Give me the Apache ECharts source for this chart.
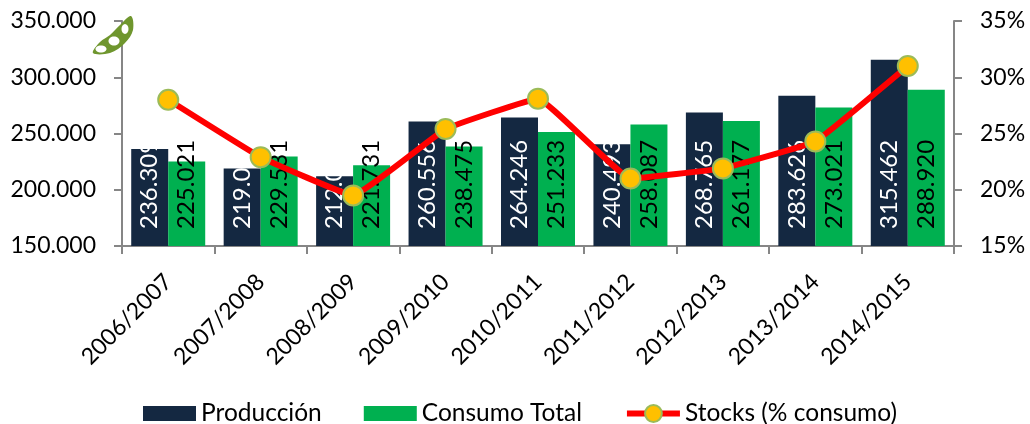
<!DOCTYPE html>
<html>
<head>
<meta charset="utf-8">
<title>Soja</title>
<script src="https://cdn.jsdelivr.net/npm/echarts@6/dist/echarts.min.js"></script>
<style>
  html, body { margin: 0; padding: 0; background: #fff; }
  #chart { width: 1030px; height: 424px; }
</style>
</head>
<body>
<div id="chart"></div>
<script>
const campaigns = ['2006/2007','2007/2008','2008/2009','2009/2010','2010/2011','2011/2012','2012/2013','2013/2014','2014/2015'];
const produccion = [236309, 219000, 212000, 260556, 264246, 240493, 268765, 283626, 315462];
const consumo = [225021, 229531, 221731, 238475, 251233, 258087, 261177, 273021, 288920];
const stocks = [28, 22.9, 19.5, 25.4, 28.1, 21, 21.9, 24.3, 31];

const font = 'Lato';
const axisGrey = '#868686';
// icono de leyenda: rectangulo mas bajo que la altura del item
const legendRect = 'path://M0 0L53 0ZM0 3H53V18H0ZM0 21L53 21Z';

// 236309 -> 236.309
function miles(v) {
  return Math.floor(v / 1000) + '.' + String(v % 1000).padStart(3, '0');
}

function barLabel(color) {
  return {
    show: true,
    position: 'insideBottom',
    rotate: 90,
    align: 'left',
    verticalAlign: 'middle',
    distance: 17,
    color: color,
    fontFamily: font,
    fontSize: 24,
    formatter: p => miles(p.value)
  };
}

const chart = echarts.init(document.getElementById('chart'));
chart.setOption({
  animation: false,
  textStyle: { fontFamily: font },
  grid: { left: 122, right: 76, top: 21, bottom: 178 },
  legend: {
    left: 143,
    top: 401,
    padding: 0,
    itemWidth: 53,
    itemHeight: 21,
    itemGap: 42,
    lineStyle: { width: 6 },
    textStyle: { fontFamily: font, fontSize: 24.5, color: '#000' },
    data: [
      { name: 'Producción', icon: legendRect },
      { name: 'Consumo Total', icon: legendRect },
      { name: 'Stocks (% consumo)' }
    ]
  },
  xAxis: {
    type: 'category',
    data: campaigns,
    axisLine: { lineStyle: { color: axisGrey, width: 2 } },
    axisTick: { show: true, length: 8, lineStyle: { color: axisGrey, width: 2 } },
    axisLabel: { rotate: 45, interval: 0, margin: 32, color: '#000', fontFamily: font, fontSize: 23 }
  },
  yAxis: [
    {
      type: 'value',
      min: 150000,
      max: 350000,
      interval: 50000,
      axisLine: { show: true, lineStyle: { color: axisGrey, width: 2 } },
      axisTick: { show: true, length: 8, lineStyle: { color: axisGrey, width: 2 } },
      splitLine: { show: false },
      axisLabel: { margin: 26, color: '#000', fontFamily: font, fontSize: 23, formatter: miles }
    },
    {
      type: 'value',
      min: 15,
      max: 35,
      interval: 5,
      position: 'right',
      axisLine: { show: true, lineStyle: { color: axisGrey, width: 2 } },
      axisTick: { show: true, length: 8, lineStyle: { color: axisGrey, width: 2 } },
      splitLine: { show: false },
      axisLabel: { margin: 26, color: '#000', fontFamily: font, fontSize: 23, formatter: '{value}%' }
    }
  ],
  series: [
    {
      name: 'Producción',
      type: 'bar',
      data: produccion,
      barWidth: 37,
      barGap: '0%',
      itemStyle: { color: '#142841' },
      label: barLabel('#fff')
    },
    {
      name: 'Consumo Total',
      type: 'bar',
      data: consumo,
      barWidth: 37,
      itemStyle: { color: '#00b050' },
      label: barLabel('#000')
    },
    {
      name: 'Stocks (% consumo)',
      type: 'line',
      yAxisIndex: 1,
      data: stocks,
      smooth: 0.08,
      z: 5,
      symbol: 'circle',
      symbolSize: 20,
      lineStyle: { color: '#ff0000', width: 6 },
      itemStyle: { color: '#ffc000', borderColor: '#9bbb59', borderWidth: 2 }
    }
  ],
  // vaina de soja, esquina superior izquierda
  graphic: [
    {
      type: 'polygon',
      z: 10,
      shape: {
        smooth: 0.35,
        points: [[93, 53], [100, 42], [110, 35], [120, 25], [131, 16], [133, 30], [125, 43], [110, 53]]
      },
      style: { fill: '#6f962e' }
    },
    { type: 'ellipse', z: 11, shape: { cx: 101, cy: 49, rx: 5.5, ry: 3.5 }, style: { fill: '#fff' } },
    { type: 'ellipse', z: 11, shape: { cx: 114, cy: 41, rx: 5.5, ry: 4.5 }, style: { fill: '#fff' } },
    { type: 'ellipse', z: 11, shape: { cx: 125, cy: 29, rx: 3.5, ry: 5 }, style: { fill: '#fff' } }
  ]
});
</script>
</body>
</html>
